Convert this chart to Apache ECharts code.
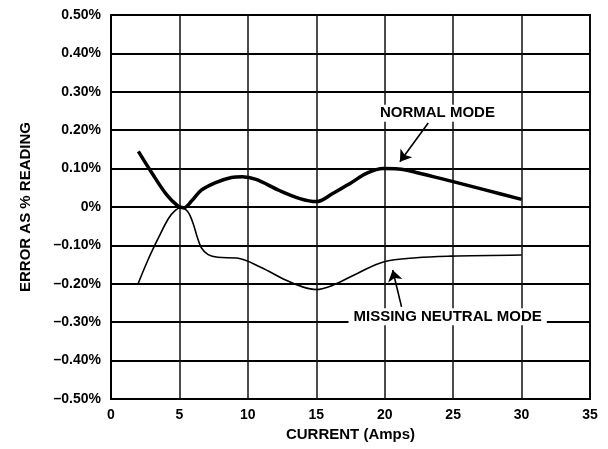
<!DOCTYPE html>
<html>
<head>
<meta charset="utf-8">
<script src="https://cdn.jsdelivr.net/npm/echarts@6/dist/echarts.min.js"></script>
<style>
  html, body { margin: 0; padding: 0; background: #fff; }
  #chart { width: 608px; height: 449px; }
</style>
</head>
<body>
<div id="chart"></div>
<script>
// Measured error curves: [current (A), error (% of reading)]
const normalMode = [
  [2.0, 0.145], [3.0, 0.088], [4.0, 0.035], [4.9, 0.002],
  [5.3, -0.002], [5.9, 0.016], [6.6, 0.044], [7.6, 0.063], [8.8, 0.077],
  [9.6, 0.079], [10.6, 0.072], [12.3, 0.043], [13.8, 0.022],
  [15.0, 0.014], [16.2, 0.035], [17.5, 0.062], [18.7, 0.088], [19.9, 0.100],
  [21.0, 0.099], [22.3, 0.090], [25.0, 0.066], [27.4, 0.044], [30.0, 0.020]
];
const missingNeutralMode = [
  [2.0, -0.198], [2.7, -0.138], [3.5, -0.078], [4.2, -0.030], [4.7, -0.009],
  [5.1, -0.002], [5.6, -0.012], [6.0, -0.043], [6.3, -0.078], [6.6, -0.106],
  [7.1, -0.124], [7.8, -0.131], [9.2, -0.133], [10.9, -0.156],
  [12.8, -0.191], [14.0, -0.208], [15.0, -0.215], [16.2, -0.204], [18.0, -0.173],
  [19.9, -0.143], [22.3, -0.132], [24.8, -0.128], [30.0, -0.125]
];

// Axis ticks
const xTickLabels = ['0', '5', '10', '15', '20', '25', '30', '35'];
const yTickLabels = ['–0.50%', '–0.40%', '–0.30%', '–0.20%', '–0.10%', '0%',
                     '0.10%', '0.20%', '0.30%', '0.40%', '0.50%'];

// Callout labels and their arrows: [x, y] in data units
const normalLabel = { text: 'NORMAL MODE', at: [23.85, 0.244] };
const normalArrow = [[23.18, 0.2185], [21.11, 0.118]];
const missingLabel = { text: 'MISSING NEUTRAL MODE', at: [24.6, -0.286] };
const missingArrow = [[21.23, -0.260], [20.58, -0.164]];

const FONT = '"Liberation Sans", Arial, Helvetica, sans-serif';

function calloutPoint(lbl) {
  return {
    coord: lbl.at,
    symbol: 'rect',
    symbolSize: 0,
    label: {
      show: true,
      position: 'inside',
      formatter: lbl.text,
      color: '#000',
      fontFamily: FONT,
      fontWeight: 'bold',
      fontSize: 15,
      backgroundColor: '#fff',
      padding: [1, 5]
    }
  };
}

function arrowLine(pts) {
  return [{ coord: pts[0] }, { coord: pts[1] }];
}

const chart = echarts.init(document.getElementById('chart'), null, { renderer: 'canvas' });

chart.setOption({
  animation: false,
  backgroundColor: '#fff',
  grid: {
    left: 111, right: 18, top: 15, bottom: 50,
    show: true, borderColor: '#000', borderWidth: 2, backgroundColor: 'transparent'
  },
  xAxis: {
    type: 'value',
    min: 0, max: 35, interval: 5,
    name: 'CURRENT (Amps)',
    nameLocation: 'middle',
    nameGap: 24,
    nameTextStyle: { color: '#000', fontFamily: FONT, fontWeight: 'bold', fontSize: 15 },
    axisLine: { show: true, lineStyle: { color: '#000', width: 2 } },
    axisTick: { show: false },
    axisLabel: {
      color: '#000', fontFamily: FONT, fontWeight: 'bold', fontSize: 14, margin: 9,
      formatter: v => xTickLabels[Math.round(v / 5)]
    },
    splitLine: { show: true, lineStyle: { color: '#111', width: 1.5 } }
  },
  yAxis: {
    type: 'value',
    min: -0.5, max: 0.5, interval: 0.1,
    name: 'ERROR AS % READING',
    nameLocation: 'middle',
    nameRotate: 90,
    nameGap: 78,
    nameTextStyle: { color: '#000', fontFamily: FONT, fontWeight: 'bold', fontSize: 15 },
    axisLine: { show: true, lineStyle: { color: '#000', width: 2 } },
    axisTick: { show: false },
    axisLabel: {
      color: '#000', fontFamily: FONT, fontWeight: 'bold', fontSize: 14, margin: 10,
      formatter: v => yTickLabels[Math.round((v + 0.5) * 10)]
    },
    splitLine: { show: true, lineStyle: { color: '#000', width: 1.8 } }
  },
  series: [
    {
      name: 'Normal mode',
      type: 'line',
      data: normalMode,
      smooth: 0.35,
      showSymbol: false,
      lineStyle: { color: '#000', width: 3.5 },
      z: 3,
      markLine: {
        silent: true,
        symbol: ['none', 'arrow'],
        symbolSize: 11,
        label: { show: false },
        lineStyle: { color: '#000', width: 1.6, type: 'solid' },
        data: [arrowLine(normalArrow)]
      },
      markPoint: { silent: true, data: [calloutPoint(normalLabel)] }
    },
    {
      name: 'Missing neutral mode',
      type: 'line',
      data: missingNeutralMode,
      smooth: 0.35,
      showSymbol: false,
      lineStyle: { color: '#000', width: 1.6 },
      z: 3,
      markLine: {
        silent: true,
        symbol: ['none', 'arrow'],
        symbolSize: 11,
        label: { show: false },
        lineStyle: { color: '#000', width: 1.6, type: 'solid' },
        data: [arrowLine(missingArrow)]
      },
      markPoint: { silent: true, data: [calloutPoint(missingLabel)] }
    }
  ]
});
</script>
</body>
</html>
